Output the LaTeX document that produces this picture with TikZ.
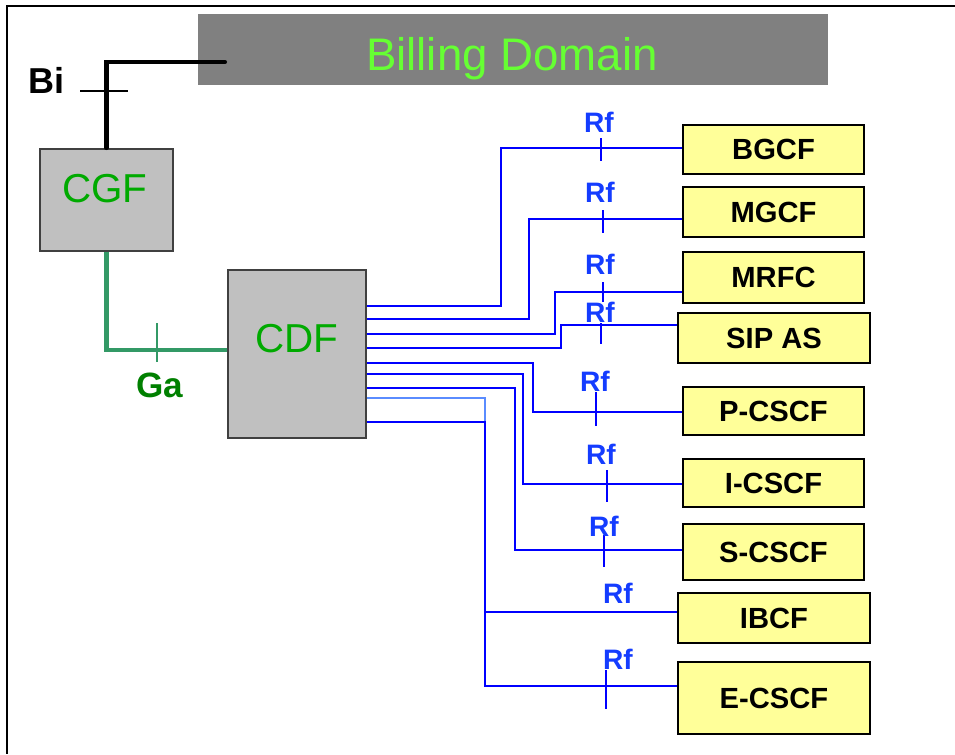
\documentclass[tikz,border=0pt]{standalone}
\usepackage{fontspec}
\setmainfont{Liberation Sans}
\usetikzlibrary{positioning}

\definecolor{billgrey}{RGB}{128,128,128}
\definecolor{billgreen}{RGB}{102,255,51}
\definecolor{boxgrey}{RGB}{192,192,192}
\definecolor{boxedge}{RGB}{64,64,64}
\definecolor{cgfgreen}{RGB}{0,170,0}
\definecolor{gagreen}{RGB}{0,128,0}
\definecolor{galine}{RGB}{51,153,102}
\definecolor{feyellow}{RGB}{255,255,153}
\definecolor{rfblue}{RGB}{0,0,255}
\definecolor{rflight}{RGB}{90,140,255}
\definecolor{rflabel}{RGB}{20,60,255}

\begin{document}
\begin{tikzpicture}[x=0.02cm, y=-0.02cm,
    fe/.style={draw, line width=1.1pt, fill=feyellow, minimum width=3.62cm, minimum height=1cm,
      inner sep=0pt, font=\fontsize{16.6}{18}\selectfont\bfseries},
    widefe/.style={fe, minimum width=3.84cm},
    greybox/.style={draw=boxedge, line width=1.1pt, fill=boxgrey, inner sep=0pt},
    gtext/.style={text=cgfgreen, font=\fontsize{23}{26}\selectfont, inner sep=0pt},
    rf/.style={draw=rfblue, line width=0.85pt},
    rflab/.style={text=rflabel, font=\fontsize{16}{18}\selectfont\bfseries, inner sep=0pt},
    tick/.style={line width=0.6pt}
  ]
  \useasboundingbox (0,0) rectangle (955,754);
  \draw[line width=1.2pt] (955,6) -- (7,6) -- (7,754);

  % billing side
  \node[fill=billgrey, minimum width=12.6cm, minimum height=1.42cm, inner sep=0pt] (billing) at (513,49.5) {};
  \node[anchor=base, text=billgreen, font=\fontsize{26}{30}\selectfont, inner sep=0pt] (billingtxt) at (512,70) {Billing Domain};
  \node[greybox, minimum width=2.66cm, minimum height=2.04cm] (cgf) at (106.5,200) {};
  \node[gtext, anchor=base] (cgftxt) at (105,202) {CGF};
  \node[greybox, minimum width=2.76cm, minimum height=3.36cm] (cdf) at (297,354) {};
  \node[gtext, anchor=base, font=\fontsize{23}{26}\selectfont] (cdftxt) at (297,352) {CDF};

  \coordinate (bistart) at (225,62);
  \draw[line width=2.3pt, line cap=round] (bistart) -| (cgf.north);
  \draw[tick] (80,91) -- (128,91);
  \node[anchor=base west, font=\fontsize{20.5}{24}\selectfont\bfseries, inner sep=0pt] (bi) at (28,93) {Bi};

  \draw[galine, line width=2.3pt] (cgf.south) |- (cdf.west |- 0,350);
  \draw[tick, galine] (157,323) -- (157,362);
  \node[anchor=base west, text=gagreen, font=\fontsize{20}{24}\selectfont\bfseries, inner sep=0pt] (ga) at (136,397) {Ga};

  % network elements
  \node[fe, minimum height=0.98cm] (bgcf) at (773.5,149.5) {BGCF};
  \node[fe] (mgcf) at (773.5,212) {MGCF};
  \node[fe, minimum height=1.02cm] (mrfc) at (773.5,277.5) {MRFC};
  \node[widefe] (sipas) at (774,338) {SIP AS};
  \node[fe, minimum height=0.96cm] (pcscf) at (773.5,411) {P-CSCF};
  \node[fe, minimum height=0.96cm] (icscf) at (773.5,483) {I-CSCF};
  \node[fe, minimum height=1.12cm] (scscf) at (773.5,552) {S-CSCF};
  \node[widefe] (ibcf) at (774,618) {IBCF};
  \node[widefe, minimum height=1.44cm] (ecscf) at (774,698) {E-CSCF};

  % Rf links
  \foreach \ya/\xb/\yb/\dest in {306/501/148/bgcf, 319/529/219/mgcf, 334/555/292/mrfc,
      348/561/325/sipas, 363/533/412/pcscf, 374/523/484/icscf, 388/515/550/scscf}
    \draw[rf] (cdf.east |- 0,\ya) -- (\xb,\ya) |- (\dest.west |- 0,\yb);
  \coordinate (ibcfjoin) at (485,612);
  \draw[rf, draw=rflight] (cdf.east |- 0,398) -- (485,398) -- (485,422);
  \draw[rf] (cdf.east |- 0,422) -- (485,422) |- (ecscf.west |- 0,686);
  \draw[rf] (ibcfjoin) -- (ibcf.west |- ibcfjoin);

  \foreach \x/\ya/\yb in {601/138/161, 603/210/233, 603/282/302, 601/323/344,
      596/392/426, 607/470/502, 604/535/567, 606/670/709}
    \draw[rf, line width=0.7pt] (\x,\ya) -- (\x,\yb);
  \foreach \x/\y [count=\i] in {599/122, 600/192, 600/264, 600/312, 595/381,
      601/454, 604/526, 618/593, 618/659}
    \node[rflab] (rf\i) at (\x,\y) {Rf};
\end{tikzpicture}
\end{document}
